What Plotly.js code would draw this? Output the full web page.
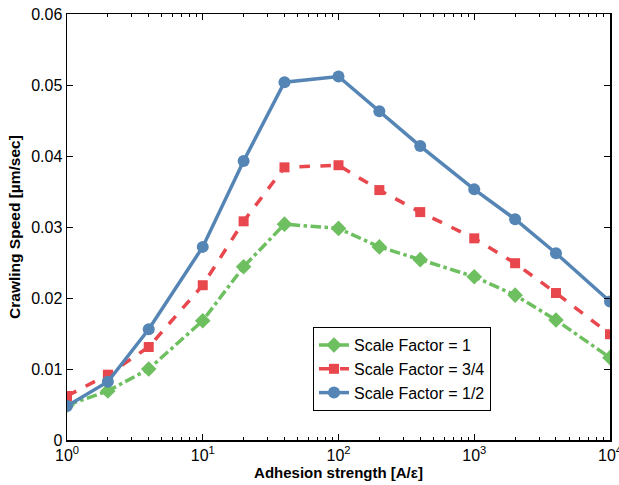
<!DOCTYPE html>
<html>
<head>
<meta charset="utf-8">
<script src="https://cdn.plot.ly/plotly-3.0.1.min.js"></script>
<style>
  html, body { margin: 0; padding: 0; background: #fff; }
  #chart { width: 619px; height: 485px; }
</style>
</head>
<body>
<div id="chart"></div>
<script>
// Adhesion strength values (A/epsilon)
const adhesion = [1, 2, 4, 10, 20, 40, 100, 200, 400, 1000, 2000, 4000, 10000];

// Crawling speed (um/sec) for each scale factor
const speedScale1 = [0.0049, 0.0069, 0.0100, 0.0168, 0.0244, 0.0304, 0.0298, 0.0272, 0.0254, 0.0230, 0.0204, 0.0169, 0.0116];
const speedScale34 = [0.0062, 0.0092, 0.0131, 0.0218, 0.0308, 0.0384, 0.0387, 0.0352, 0.0321, 0.0284, 0.0249, 0.0207, 0.0149];
const speedScale12 = [0.0048, 0.0082, 0.0156, 0.0272, 0.0393, 0.0504, 0.0512, 0.0463, 0.0414, 0.0353, 0.0311, 0.0263, 0.0195];

const seriesNames = ['Scale Factor = 1', 'Scale Factor = 3/4', 'Scale Factor = 1/2'];

// Decade ticks on the x axis
const xTickVals = [1, 10, 100, 1000, 10000];
const xTickText = ['10<sup>0</sup>', '10<sup>1</sup>', '10<sup>2</sup>', '10<sup>3</sup>', '10<sup>4</sup>'];

const yTickVals = [0, 0.01, 0.02, 0.03, 0.04, 0.05, 0.06];
const yTickText = ['0', '0.01', '0.02', '0.03', '0.04', '0.05', '0.06'];

// Minor log ticks between decades (2..9 in each)
const minorVals = [];
for (let d = 1; d < 10000; d *= 10) {
  for (let k = 2; k <= 9; k++) minorVals.push(k * d);
}

const FONT = 'Liberation Sans, Arial, Helvetica, sans-serif';

const traces = [
  {
    x: adhesion, y: speedScale1, name: seriesNames[0],
    mode: 'lines+markers',
    line: { color: '#6dbf5f', width: 3.5, dash: 'dashdot' },
    marker: { symbol: 'diamond', size: 12, color: '#6dbf5f' }
  },
  {
    x: adhesion, y: speedScale34, name: seriesNames[1],
    mode: 'lines+markers',
    line: { color: '#e8474d', width: 3.5, dash: 'dash' },
    marker: { symbol: 'square', size: 10, color: '#e8474d' }
  },
  {
    x: adhesion, y: speedScale12, name: seriesNames[2],
    mode: 'lines+markers',
    line: { color: '#5585b5', width: 3.5 },
    marker: { symbol: 'circle', size: 12, color: '#5585b5' }
  }
];

const layout = {
  width: 619, height: 485,
  margin: { l: 67, r: 9, t: 14, b: 45 },
  paper_bgcolor: '#fff', plot_bgcolor: '#fff',
  font: { family: FONT, size: 16, color: '#000' },
  showlegend: true,
  legend: {
    x: 0.453, y: 0.265, xanchor: 'left', yanchor: 'top',
    bgcolor: '#fff', bordercolor: '#000', borderwidth: 1,
    font: { family: FONT, size: 16, color: '#000' },
    tracegroupgap: 0
  },
  xaxis: {
    type: 'log',
    range: [0, 4],
    tickmode: 'array', tickvals: xTickVals, ticktext: xTickText,
    ticklabeloverflow: 'allow',
    ticks: 'inside', ticklen: 6, tickwidth: 1, tickcolor: '#000',
    minor: { tickmode: 'array', tickvals: minorVals, ticks: 'inside', ticklen: 3, tickcolor: '#000', showgrid: false },
    showline: true, linecolor: '#000', linewidth: 1.5, mirror: 'ticks',
    showgrid: false, zeroline: false,
    tickfont: { family: FONT, size: 16 },
    title: { text: '<b>Adhesion strength [A/ε]</b>', font: { family: FONT, size: 15 }, standoff: 2 }
  },
  yaxis: {
    range: [0, 0.06],
    tickmode: 'array', tickvals: yTickVals, ticktext: yTickText,
    ticks: 'inside', ticklen: 6, tickwidth: 1, tickcolor: '#000',
    showline: true, linecolor: '#000', linewidth: 1.5, mirror: 'ticks',
    showgrid: false, zeroline: false,
    tickfont: { family: FONT, size: 16 },
    title: { text: '<b>Crawling Speed [µm/sec]</b>', font: { family: FONT, size: 15.5 }, standoff: 6 }
  }
};

Plotly.newPlot('chart', traces, layout, { displayModeBar: false, staticPlot: true });
</script>
</body>
</html>
